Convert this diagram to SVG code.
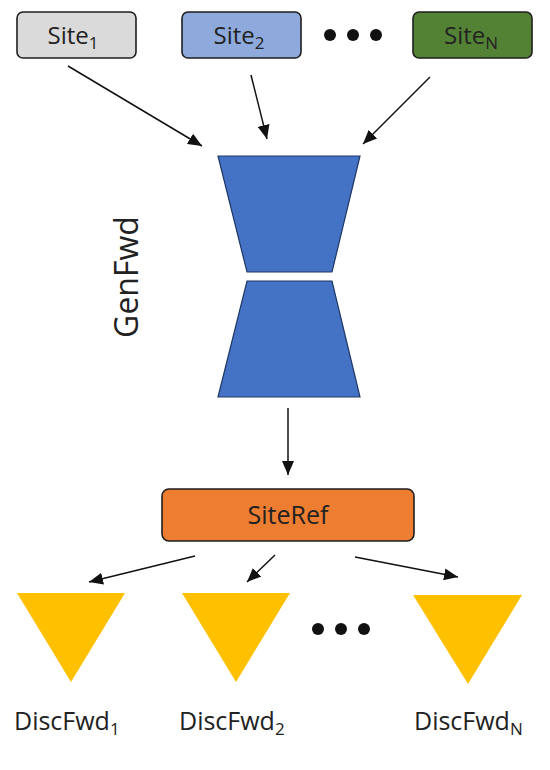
<svg xmlns="http://www.w3.org/2000/svg" width="550" height="770" viewBox="0 0 550 770">
<style>
.box{stroke:#1e1e1e;stroke-width:1.6}
.lbl{font-family:"Open Sans","DejaVu Sans",sans-serif;fill:#222}
.sub{font-size:17px}
.trap{fill:#4472C4;stroke:#1F3864;stroke-width:1.2}
.tri{fill:#FFC000}
.conn{stroke:#111;stroke-width:1.5;fill:none;marker-end:url(#ah)}
.dot{fill:#111}
</style>
<defs>
<marker id="ah" markerWidth="14" markerHeight="12" refX="14" refY="6" orient="auto" markerUnits="userSpaceOnUse">
<path d="M0,0 L14,6 L0,12 Z" fill="#111"/>
</marker>
</defs>
<rect width="550" height="770" fill="#fff"/>
<g id="site1">
<rect class="box" x="17" y="12" width="119" height="46" rx="6" fill="#DADADA"/>
<text class="lbl" x="73" y="44" font-size="24" text-anchor="middle">Site<tspan class="sub" dy="5">1</tspan></text>
</g>
<g id="site2">
<rect class="box" x="182" y="12" width="119" height="46" rx="6" fill="#8EA9DB"/>
<text class="lbl" x="239" y="44" font-size="24" text-anchor="middle">Site<tspan class="sub" dy="5">2</tspan></text>
</g>
<g id="dots-top">
<circle class="dot" cx="330" cy="35" r="6"/>
<circle class="dot" cx="353" cy="35" r="6"/>
<circle class="dot" cx="376" cy="35" r="6"/>
</g>
<g id="siteN">
<rect class="box" x="413" y="12" width="119" height="46" rx="6" fill="#548235"/>
<text class="lbl" x="471" y="44" font-size="24" text-anchor="middle">Site<tspan class="sub" dy="5">N</tspan></text>
</g>
<g id="genfwd">
<polygon class="trap" points="218,156 360,156 332,272 247,272"/>
<polygon class="trap" points="247,281 332,281 360,397 218,397"/>
<text class="lbl" font-size="32" text-anchor="middle" transform="translate(138,277) rotate(-90)">GenFwd</text>
</g>
<g id="siteref">
<rect class="box" x="162" y="489" width="252" height="52" rx="7" fill="#ED7D31"/>
<text class="lbl" x="288" y="524" font-size="25" text-anchor="middle">SiteRef</text>
</g>
<g id="disc1">
<polygon class="tri" points="17,593 125,593 71,682"/>
<text class="lbl" x="14" y="730" font-size="25">DiscFwd<tspan class="sub" dy="5">1</tspan></text>
</g>
<g id="disc2">
<polygon class="tri" points="182,593 290,593 236,682"/>
<text class="lbl" x="179" y="730" font-size="25">DiscFwd<tspan class="sub" dy="5">2</tspan></text>
</g>
<g id="dots-bottom">
<circle class="dot" cx="318" cy="629" r="6"/>
<circle class="dot" cx="341" cy="629" r="6"/>
<circle class="dot" cx="364" cy="629" r="6"/>
</g>
<g id="discN">
<polygon class="tri" points="413,595 522,595 468,684"/>
<text class="lbl" x="414" y="730" font-size="25">DiscFwd<tspan class="sub" dy="5">N</tspan></text>
</g>
<g id="connectors">
<line class="conn" x1="68" y1="66" x2="202" y2="146"/>
<line class="conn" x1="251" y1="75" x2="267" y2="139"/>
<line class="conn" x1="430" y1="77" x2="363" y2="144"/>
<line class="conn" x1="288" y1="408" x2="288" y2="475"/>
<line class="conn" x1="195" y1="556" x2="89" y2="582"/>
<line class="conn" x1="275" y1="555" x2="247" y2="582"/>
<line class="conn" x1="355" y1="557" x2="458" y2="577"/>
</g>
</svg>
